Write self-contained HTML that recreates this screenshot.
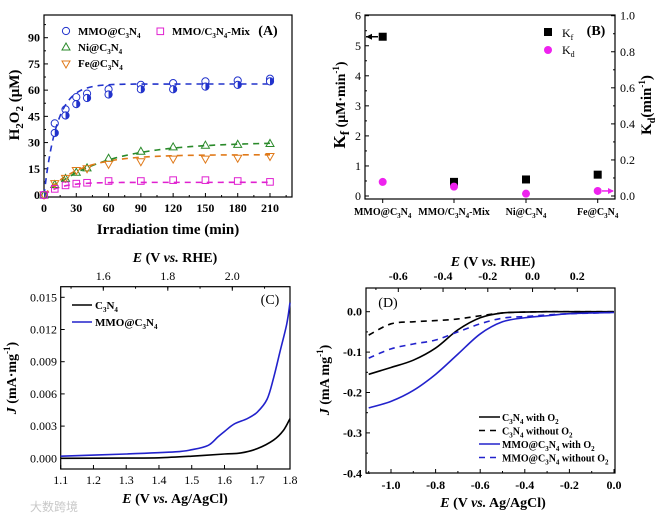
<!DOCTYPE html>
<html><head><meta charset="utf-8"><style>
html,body{margin:0;padding:0;background:#fff}
svg{display:block;font-family:"Liberation Serif","Noto Serif CJK SC",serif}
.b{font-weight:bold}
</style></head><body>
<svg id="fig" width="669" height="519" viewBox="0 0 669 519" xmlns="http://www.w3.org/2000/svg"></svg>
<script>
// ---- Panel A data ----
const timesA=[0,10,20,30,40,60,90,120,150,180,210];
const mmoOpen=[0,41,49,56,58,60.5,63,64,65,65.5,66.5];
const mmoHalf=[0,35.5,45.5,52,55.5,57.5,60.5,60.5,62,63,65];
const niVals=[0,6,9.5,13,15.5,21,25,27.5,28.5,29,29.5];
const feVals=[0,6.5,9.5,14,15,17.5,19,20.5,20.5,21,22];
const mixVals=[0,3.5,5.5,6.5,7,8,8,8.5,8.5,8,7.5];
const ticksAx=[0,30,60,90,120,150,180,210];
const ticksAy=[0,15,30,45,60,75,90];
// ---- Panel B data ----
const catsB=["MMO@C<tspan font-size='7' dy='3'>3</tspan><tspan dy='-3'>N</tspan><tspan font-size='7' dy='3'>4</tspan>","MMO/C<tspan font-size='7' dy='3'>3</tspan><tspan dy='-3'>N</tspan><tspan font-size='7' dy='3'>4</tspan><tspan dy='-3'>-Mix</tspan>","Ni@C<tspan font-size='7' dy='3'>3</tspan><tspan dy='-3'>N</tspan><tspan font-size='7' dy='3'>4</tspan>","Fe@C<tspan font-size='7' dy='3'>3</tspan><tspan dy='-3'>N</tspan><tspan font-size='7' dy='3'>4</tspan>"];
const kfVals=[5.3,0.47,0.55,0.71];
const kdVals=[0.078,0.052,0.013,0.028];
const ticksBl=[0,1,2,3,4,5,6];
const ticksBr=[0,0.2,0.4,0.6,0.8,1.0];
// ---- Panel C data ----
const eC1=[1.1,1.3,1.4,1.5,1.6,1.65,1.7,1.75,1.78,1.8];
const jC1=[0,0.00002,0.00005,0.0002,0.0004,0.0005,0.0009,0.0017,0.0026,0.0037];
const eC2=[1.1,1.3,1.45,1.5,1.55,1.58,1.6,1.63,1.67,1.7,1.73,1.75,1.77,1.79,1.8];
const jC2=[0.0002,0.0004,0.0006,0.0008,0.0012,0.002,0.0025,0.0032,0.0037,0.0043,0.0055,0.0075,0.01,0.0125,0.0145];
const ticksCx=[1.1,1.2,1.3,1.4,1.5,1.6,1.7,1.8];
const ticksCy=[0,0.003,0.006,0.009,0.012,0.015];
const ticksCtop=[1.6,1.8,2.0];
// ---- Panel D data ----
const eD=[-1.1,-1.0,-0.9,-0.8,-0.7,-0.6,-0.5,-0.4,-0.3,-0.2,0];
const jD1=[-0.155,-0.138,-0.12,-0.09,-0.045,-0.015,-0.003,-0.001,0,0,0];
const jD2=[-0.058,-0.03,-0.025,-0.022,-0.018,-0.01,-0.003,-0.001,0,0,0];
const jD3=[-0.238,-0.222,-0.195,-0.155,-0.105,-0.055,-0.025,-0.015,-0.01,-0.005,-0.002];
const jD4=[-0.115,-0.092,-0.08,-0.07,-0.05,-0.03,-0.016,-0.012,-0.008,-0.005,-0.002];
const ticksDx=[-1.0,-0.8,-0.6,-0.4,-0.2,0.0];
const ticksDy=[0,-0.1,-0.2,-0.3,-0.4];
const ticksDtop=[-0.6,-0.4,-0.2,0.0,0.2];

const svg=document.getElementById('fig');
const NS='http://www.w3.org/2000/svg';
function el(tag,attrs,parent){const e=document.createElementNS(NS,tag);for(const k in attrs)e.setAttribute(k,attrs[k]);(parent||svg).appendChild(e);return e;}
function txt(x,y,html,attrs,parent){const e=el('text',Object.assign({x:x,y:y},attrs||{}),parent);e.innerHTML=html;return e;}
function lin(d0,d1,r0,r1){return v=>r0+(v-d0)/(d1-d0)*(r1-r0);}
function smooth(pts){let d='M'+pts[0][0]+','+pts[0][1];for(let i=0;i<pts.length-1;i++){const p0=pts[Math.max(0,i-1)],p1=pts[i],p2=pts[i+1],p3=pts[Math.min(pts.length-1,i+2)];const c1x=p1[0]+(p2[0]-p0[0])/6,c1y=p1[1]+(p2[1]-p0[1])/6,c2x=p2[0]-(p3[0]-p1[0])/6,c2y=p2[1]-(p3[1]-p1[1])/6;d+=` C${c1x},${c1y} ${c2x},${c2y} ${p2[0]},${p2[1]}`;}return d;}
function fmt(v,d){return v.toFixed(d);}

// ================= Panel A =================
(function(){
const g=el('g',{});


const X=lin(0,210,44,270),Y=lin(0,90,195,37.7);
el('rect',{x:44,y:15,width:248,height:182,fill:'none',stroke:'#000','stroke-width':1.2},g);
ticksAx.forEach(t=>{el('line',{x1:X(t),y1:197,x2:X(t),y2:193,stroke:'#000'},g);txt(X(t),212,t,{'text-anchor':'middle','font-size':12,class:'b'},g);});
for(let t=15;t<230;t+=30)el('line',{x1:X(t),y1:197,x2:X(t),y2:195,stroke:'#000'},g);
ticksAy.forEach(t=>{el('line',{x1:44,y1:Y(t),x2:48,y2:Y(t),stroke:'#000'},g);txt(40,Y(t)+4,t,{'text-anchor':'end','font-size':12,class:'b'},g);});
for(let t=7.5;t<100;t+=15)el('line',{x1:44,y1:Y(t),x2:46,y2:Y(t),stroke:'#000'},g);
txt(168,234,'Irradiation time (min)',{'text-anchor':'middle','font-size':15,class:'b'},g);
txt(0,0,"H<tspan font-size='11' dy='4'>2</tspan><tspan dy='-4'>O</tspan><tspan font-size='11' dy='4'>2</tspan><tspan dy='-4'> (μM)</tspan>",{transform:'translate(19,105) rotate(-90)','text-anchor':'middle','font-size':15,class:'b'},g);
txt(268,35,'(A)',{'text-anchor':'middle','font-size':14,class:'b'},g);
const fits=[[0,'#2233cc'],[2,'#2a8a2a'],[3,'#e07a1a'],[1,'#e020d0']];
fits.forEach(([i,c])=>{const pts=[];for(let t=0;t<=210;t+=3){const kf=kfVals[i],kd=kdVals[i]*(i==0?1.07:i==2?1.4:i==3?1.1:1.25);pts.push([X(t),Y(kf/kd*(1-Math.exp(-kd*t)))]);}
const p=el('path',{d:smooth(pts),fill:'none',stroke:c,'stroke-width':1.6,'stroke-dasharray':'6,5'},g);

});
timesA.forEach((t,i)=>{
 let m=el('circle',{cx:X(t),cy:Y(mmoOpen[i]),r:3.6,fill:'none',stroke:'#2233cc','stroke-width':1},g);
 
 
 const cx=X(t),cy=Y(mmoHalf[i]);
 m=el('circle',{cx:cx,cy:cy,r:3.6,fill:'#fff',stroke:'#2233cc','stroke-width':1},g);
 
 
 el('path',{d:`M${cx},${cy-3.6} A3.6,3.6 0 0 1 ${cx},${cy+3.6} Z`,fill:'#2233cc'},g);
 let x=X(t),y=Y(niVals[i]);
 m=el('path',{d:`M${x},${y-4} L${x+4},${y+3} L${x-4},${y+3} Z`,fill:'none',stroke:'#2a8a2a','stroke-width':1},g);
 
 
 y=Y(feVals[i]);
 m=el('path',{d:`M${x},${y+4} L${x+4},${y-3} L${x-4},${y-3} Z`,fill:'none',stroke:'#e07a1a','stroke-width':1},g);
 
 
 y=Y(mixVals[i]);
 m=el('rect',{x:x-3.3,y:y-3.3,width:6.6,height:6.6,fill:'none',stroke:'#e020d0','stroke-width':1},g);
 
 
});
const lg=el('g',{},g);


el('circle',{cx:66,cy:31,r:3.6,fill:'none',stroke:'#2233cc'},lg);
txt(78,35,"MMO@C<tspan font-size='7' dy='3'>3</tspan><tspan dy='-3'>N</tspan><tspan font-size='7' dy='3'>4</tspan>",{'font-size':11,class:'b'},lg);
el('path',{d:'M66,43 L70,50 L62,50 Z',fill:'none',stroke:'#2a8a2a'},lg);
txt(78,51,"Ni@C<tspan font-size='7' dy='3'>3</tspan><tspan dy='-3'>N</tspan><tspan font-size='7' dy='3'>4</tspan>",{'font-size':11,class:'b'},lg);
el('path',{d:'M66,68 L70,61 L62,61 Z',fill:'none',stroke:'#e07a1a'},lg);
txt(78,67,"Fe@C<tspan font-size='7' dy='3'>3</tspan><tspan dy='-3'>N</tspan><tspan font-size='7' dy='3'>4</tspan>",{'font-size':11,class:'b'},lg);
el('rect',{x:157,y:28,width:6.6,height:6.6,fill:'none',stroke:'#e020d0'},lg);
txt(172,35,"MMO/C<tspan font-size='7' dy='3'>3</tspan><tspan dy='-3'>N</tspan><tspan font-size='7' dy='3'>4</tspan><tspan dy='-3'>-Mix</tspan>",{'font-size':11,class:'b'},lg);
})();

// ================= Panel B =================
(function(){
const g=el('g',{});


const YL=lin(0,6,196,15.7),YR=lin(0,1,196,15.7);
const cx=[382.7,454,526,597.7];
el('rect',{x:365,y:15,width:250,height:184,fill:'none',stroke:'#000','stroke-width':1.2},g);
ticksBl.forEach(t=>{el('line',{x1:365,y1:YL(t),x2:369,y2:YL(t),stroke:'#000'},g);txt(361,YL(t)+4,t,{'text-anchor':'end','font-size':12},g);});
for(let t=0.5;t<6;t+=1)el('line',{x1:365,y1:YL(t),x2:367,y2:YL(t),stroke:'#000'},g);
ticksBr.forEach(t=>{el('line',{x1:611,y1:YR(t),x2:615,y2:YR(t),stroke:'#000'},g);txt(620,YR(t)+4,fmt(t,1),{'font-size':12},g);});
for(let t=0.1;t<1;t+=0.2)el('line',{x1:613,y1:YR(t),x2:615,y2:YR(t),stroke:'#000'},g);
catsB.forEach((c,i)=>{el('line',{x1:cx[i],y1:199,x2:cx[i],y2:203,stroke:'#000'},g);txt(cx[i],215,c,{'text-anchor':'middle','font-size':10,class:'b'},g);});
txt(0,0,"K<tspan font-size='13' dy='4'>f</tspan><tspan dy='-4' font-size='14'> (μM·min</tspan><tspan font-size='9' dy='-6'>-1</tspan><tspan dy='6' font-size='14'>)</tspan>",{transform:'translate(345,105) rotate(-90)','text-anchor':'middle','font-size':17,class:'b'},g);
txt(0,0,"K<tspan font-size='10' dy='4'>d</tspan><tspan dy='-4'>(min</tspan><tspan font-size='9' dy='-6'>-1</tspan><tspan dy='6'>)</tspan>",{transform:'translate(651,105) rotate(-90)','text-anchor':'middle','font-size':15,class:'b'},g);
kfVals.forEach((v,i)=>{const m=el('rect',{x:cx[i]-4,y:YL(v)-4,width:8,height:8,fill:'#000'},g);

});
kdVals.forEach((v,i)=>{const m=el('circle',{cx:cx[i],cy:YR(v),r:4,fill:'#ee22ee'},g);

});
el('path',{d:`M378,${YL(kfVals[0])} L366,${YL(kfVals[0])}`,stroke:'#000','stroke-width':1.5},g);
el('path',{d:`M366,${YL(kfVals[0])} l6,-3 l0,6 Z`,fill:'#000'},g);
el('path',{d:`M602,${YR(kdVals[3])} L613,${YR(kdVals[3])}`,stroke:'#ee22ee','stroke-width':1.5},g);
el('path',{d:`M614,${YR(kdVals[3])} l-6,-3 l0,6 Z`,fill:'#ee22ee'},g);
txt(596,35,'(B)',{'text-anchor':'middle','font-size':14,class:'b'},g);
const lg=el('g',{},g);


el('rect',{x:544,y:28,width:8,height:8,fill:'#000'},lg);
txt(562,37,"K<tspan font-size='8' dy='3'>f</tspan>",{'font-size':12},lg);
el('circle',{cx:548,cy:50,r:4,fill:'#ee22ee'},lg);
txt(562,54,"K<tspan font-size='8' dy='3'>d</tspan>",{'font-size':12},lg);
})();

// ================= Panel C =================
(function(){
const g=el('g',{});


const X=lin(1.1,1.8,60.7,290),Y=lin(0,0.015,458.3,297.3);
el('rect',{x:60.7,y:286.7,width:229.3,height:182.3,fill:'none',stroke:'#000','stroke-width':1.2},g);
ticksCx.forEach(t=>{el('line',{x1:X(t),y1:469,x2:X(t),y2:465,stroke:'#000'},g);txt(X(t),484,fmt(t,1),{'text-anchor':'middle','font-size':12},g);});
ticksCy.forEach(t=>{el('line',{x1:60.7,y1:Y(t),x2:64.7,y2:Y(t),stroke:'#000'},g);txt(57,Y(t)+4,fmt(t,3),{'text-anchor':'end','font-size':12},g);});
const XT=lin(1.6,2.0,103.3,232.3);
ticksCtop.forEach(t=>{el('line',{x1:XT(t),y1:286.7,x2:XT(t),y2:290.7,stroke:'#000'},g);txt(XT(t),280,fmt(t,1),{'text-anchor':'middle','font-size':12},g);});
for(let t=1.5;t<2.2;t+=0.1)el('line',{x1:XT(t),y1:286.7,x2:XT(t),y2:288.7,stroke:'#000'},g);
txt(175,262,"<tspan font-style='italic'>E</tspan> (V <tspan font-style='italic'>vs.</tspan> RHE)",{'text-anchor':'middle','font-size':14,class:'b'},g);
txt(175,503,"<tspan font-style='italic'>E</tspan> (V <tspan font-style='italic'>vs.</tspan> Ag/AgCl)",{'text-anchor':'middle','font-size':14,class:'b'},g);
txt(0,0,"<tspan font-style='italic'>J</tspan> (mA·mg<tspan font-size='9' dy='-6'>-1</tspan><tspan dy='6'>)</tspan>",{transform:'translate(16,378) rotate(-90)','text-anchor':'middle','font-size':14,class:'b'},g);
let p=el('path',{d:smooth(eC1.map((e,i)=>[X(e),Y(jC1[i])])),fill:'none',stroke:'#000','stroke-width':1.6},g);


p=el('path',{d:smooth(eC2.map((e,i)=>[X(e),Y(jC2[i])])),fill:'none',stroke:'#2222cc','stroke-width':1.6},g);


txt(270,304,'(C)',{'text-anchor':'middle','font-size':14},g);
const lg=el('g',{},g);


el('line',{x1:72,y1:305,x2:92,y2:305,stroke:'#000','stroke-width':1.6},lg);
txt(95,309,"C<tspan font-size='7' dy='3'>3</tspan><tspan dy='-3'>N</tspan><tspan font-size='7' dy='3'>4</tspan>",{'font-size':11,class:'b'},lg);
el('line',{x1:72,y1:322,x2:92,y2:322,stroke:'#2222cc','stroke-width':1.6},lg);
txt(95,326,"MMO@C<tspan font-size='7' dy='3'>3</tspan><tspan dy='-3'>N</tspan><tspan font-size='7' dy='3'>4</tspan>",{'font-size':11,class:'b'},lg);
txt(30,511,'大数跨境',{'font-size':12,fill:'#c8c8c8','font-family':'Noto Sans CJK SC, sans-serif'},g);
})();

// ================= Panel D =================
(function(){
const g=el('g',{});


const X=lin(-1.0,0,391,614),Y=lin(0,-0.4,311.7,473.3);
el('rect',{x:366,y:288,width:249,height:185,fill:'none',stroke:'#000','stroke-width':1.2},g);
ticksDx.forEach(t=>{el('line',{x1:X(t),y1:473,x2:X(t),y2:469,stroke:'#000'},g);txt(X(t),489,fmt(t,1),{'text-anchor':'middle','font-size':12,class:'b'},g);});
for(let t=-1.1;t<0;t+=0.2)el('line',{x1:X(t),y1:473,x2:X(t),y2:471,stroke:'#000'},g);
ticksDy.forEach(t=>{el('line',{x1:366,y1:Y(t),x2:370,y2:Y(t),stroke:'#000'},g);txt(362,Y(t)+4,fmt(t,1),{'text-anchor':'end','font-size':12,class:'b'},g);});
for(let t=-0.05;t>-0.4;t-=0.1)el('line',{x1:366,y1:Y(t),x2:368,y2:Y(t),stroke:'#000'},g);
const XT=lin(-0.6,0.2,398.3,577.3);
ticksDtop.forEach(t=>{el('line',{x1:XT(t),y1:288,x2:XT(t),y2:292,stroke:'#000'},g);txt(XT(t),280,fmt(t,1),{'text-anchor':'middle','font-size':12,class:'b'},g);});
for(let t=-0.7;t<0.3;t+=0.2)el('line',{x1:XT(t),y1:288,x2:XT(t),y2:290,stroke:'#000'},g);
txt(493,266,"<tspan font-style='italic'>E</tspan> (V <tspan font-style='italic'>vs.</tspan> RHE)",{'text-anchor':'middle','font-size':14,class:'b'},g);
txt(493,507,"<tspan font-style='italic'>E</tspan> (V <tspan font-style='italic'>vs.</tspan> Ag/AgCl)",{'text-anchor':'middle','font-size':14,class:'b'},g);
txt(0,0,"<tspan font-style='italic'>J</tspan> (mA mg<tspan font-size='9' dy='-6'>-1</tspan><tspan dy='6'>)</tspan>",{transform:'translate(329,380) rotate(-90)','text-anchor':'middle','font-size':14,class:'b'},g);
const series=[[jD1,'#000',''],[jD2,'#000','6,5'],[jD3,'#2222cc',''],[jD4,'#2222cc','6,5']];
series.forEach(([d,c,da])=>{const p=el('path',{d:smooth(eD.map((e,i)=>[X(e),Y(d[i])])),fill:'none',stroke:c,'stroke-width':1.6,'stroke-dasharray':da||'none'},g);

});
txt(388,307,'(D)',{'text-anchor':'middle','font-size':14},g);
const lg=el('g',{},g);


const labs=["C<tspan font-size='7' dy='3'>3</tspan><tspan dy='-3'>N</tspan><tspan font-size='7' dy='3'>4</tspan><tspan dy='-3'> with O</tspan><tspan font-size='7' dy='3'>2</tspan>","C<tspan font-size='7' dy='3'>3</tspan><tspan dy='-3'>N</tspan><tspan font-size='7' dy='3'>4</tspan><tspan dy='-3'> without O</tspan><tspan font-size='7' dy='3'>2</tspan>","MMO@C<tspan font-size='7' dy='3'>3</tspan><tspan dy='-3'>N</tspan><tspan font-size='7' dy='3'>4</tspan><tspan dy='-3'> with O</tspan><tspan font-size='7' dy='3'>2</tspan>","MMO@C<tspan font-size='7' dy='3'>3</tspan><tspan dy='-3'>N</tspan><tspan font-size='7' dy='3'>4</tspan><tspan dy='-3'> without O</tspan><tspan font-size='7' dy='3'>2</tspan>"];
series.forEach(([d,c,da],i)=>{const y=417+i*13.5;el('line',{x1:479,y1:y,x2:500,y2:y,stroke:c,'stroke-width':1.6,'stroke-dasharray':da||'none'},lg);txt(502,y+4,labs[i],{'font-size':10,class:'b'},lg);});
})();
</script>
</body></html>
